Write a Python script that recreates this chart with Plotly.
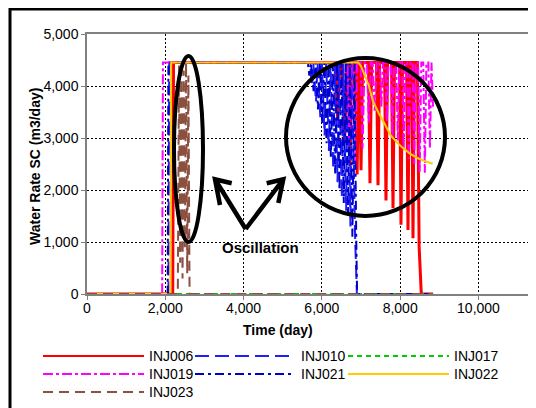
import plotly.graph_objects as go

# ---------------- data (time in days, water rate in m3/day) ----------------
inj006_t = [0, 2190, 2210, 6300, 6340, 6400, 6460, 6520, 6580, 6640, 6680, 6720, 6760,
            6860, 6900, 6940, 6960, 7000, 7040, 7190, 7229, 7270, 7395, 7434, 7475,
            7600, 7638, 7678, 7780, 7817, 7855, 7985, 8021, 8060, 8165, 8200, 8235,
            8295, 8328, 8362, 8440, 8485, 8540, 8840]
inj006_v = [0, 0, 4450, 4450, 4450, 3380, 4450, 4450, 2900, 4450, 4450, 2450, 4450,
            4450, 2300, 4450, 4450, 2380, 4450, 4450, 2130, 4450, 4450, 2090, 4450,
            4450, 1800, 4450, 4450, 1650, 4450, 4450, 1330, 4450, 4450, 1230, 4450,
            4450, 1070, 4450, 4450, 900, 0, 0]

inj010_t = [0, 2080, 2100, 5700, 5740, 5780, 5850, 5890, 5960, 6000, 6070, 6110,
            6180, 6220, 6290, 6330, 6400, 6440, 6510, 6550, 6620, 6660, 6730, 6770,
            6850, 6895, 8840]
inj010_v = [0, 0, 4450, 4450, 4000, 4450, 3700, 4450, 3400, 4450, 3050, 4450,
            2750, 4450, 2400, 4450, 2150, 4450, 1850, 4450, 1600, 4450, 1300, 4450,
            1050, 0, 0]

inj017_t = [0, 8840]
inj017_v = [0, 0]

inj019_t = [0, 1920, 1940, 6650, 6700, 6750, 6800, 6850, 6900, 6990, 7040, 7090,
            7150, 7200, 7250, 7300, 7350, 7400, 7480, 7520, 7560, 7620, 7660, 7700,
            7760, 7800, 7840, 7900, 7940, 7980, 8050, 8090, 8130, 8180, 8220, 8260,
            8320, 8360, 8400, 8460, 8500, 8540, 8590, 8630, 8670, 8720, 8760, 8800, 8840]
inj019_v = [0, 0, 4450, 4450, 3000, 4450, 4450, 2500, 4450, 4450, 2800, 4450,
            4450, 3300, 4450, 4450, 3500, 4450, 4450, 3600, 4450, 4450, 3300, 4450,
            4450, 3000, 4450, 4450, 2950, 4450, 4450, 2750, 4450, 4450, 2600, 4450,
            4450, 2500, 4450, 4450, 2350, 4450, 4450, 2330, 4450, 4450, 2800, 4450, 3600]

inj021_t = [0, 2060, 2080, 5640, 5680, 5720, 5790, 5840, 5900, 5950, 6010, 6060,
            6120, 6170, 6230, 6280, 6340, 6390, 6450, 6500, 6560, 6610, 6670, 6720,
            6780, 6830, 6880, 6900, 8840]
inj021_v = [0, 0, 4450, 4450, 4200, 4450, 3900, 4450, 3550, 4450, 3250, 4450,
            2900, 4450, 2600, 4450, 2300, 4450, 2000, 4450, 1750, 4450, 1500, 4450,
            1100, 4450, 950, 0, 0]

inj022_t = [0, 2130, 2150, 6930, 7000, 7100, 7200, 7300, 7450, 7600, 7750, 7900,
            8050, 8250, 8450, 8650, 8830]
inj022_v = [0, 0, 4450, 4450, 4380, 4200, 4010, 3720, 3480, 3280, 3060, 2930,
            2820, 2700, 2610, 2550, 2505]

inj023_t = [0, 2320, 2350, 2380, 2410, 2440, 2470, 2500, 2530, 2560, 2590, 2620, 8840]
inj023_v = [0, 0, 4400, 600, 4450, 300, 4300, 900, 4450, 400, 4200, 0, 0]

x_ticks = [0, 2000, 4000, 6000, 8000, 10000]
y_ticks = [0, 1000, 2000, 3000, 4000, 5000]

names = ["INJ006", "INJ010", "INJ017", "INJ019", "INJ021", "INJ022", "INJ023"]
colors = ["#FF0000", "#1E1EFF", "#00CC00", "#FF00FF", "#0000C8", "#FFCC00", "#8C5040"]
dashes = ["solid", "14px,6px", "5px,4px", "10px,3px,3px,3px", "9px,4px,3px,4px",
          "solid", "10px,6px"]
widths = [3, 2, 2, 2, 2, 2, 2]
series_t = [inj006_t, inj010_t, inj017_t, inj019_t, inj021_t, inj022_t, inj023_t]
series_v = [inj006_v, inj010_v, inj017_v, inj019_v, inj021_v, inj022_v, inj023_v]

FONT = "Arial, 'Liberation Sans', sans-serif"

fig = go.Figure()
for n, c, d, w, t, v in zip(names, colors, dashes, widths, series_t, series_v):
    fig.add_trace(go.Scatter(x=t, y=v, mode="lines", name=n,
                             line=dict(color=c, dash=d, width=w), showlegend=False))

# page has an 8px body margin; coordinates below are in window pixels
OFF = 8
W, H = 536 - OFF, 408 - OFF
L, R, T, B = 87, 536, 34, 294  # plot area in window pixels


def PX(x):
    return (x - L) / (R - L)


def PY(y):
    return (B - y) / (B - T)


shapes = []
annotations = []

# outer frame
shapes.append(dict(type="rect", xref="paper", yref="paper", x0=PX(10), x1=PX(700),
                   y0=PY(600), y1=PY(9), line=dict(color="black", width=3)))

# ellipses
shapes.append(dict(type="circle", xref="paper", yref="paper", x0=PX(174), x1=PX(203),
                   y0=PY(242), y1=PY(56), line=dict(color="black", width=4)))
shapes.append(dict(type="circle", xref="paper", yref="paper", x0=PX(286), x1=PX(445),
                   y0=PY(216), y1=PY(58), line=dict(color="black", width=4)))


def seg_path(points_list):
    s = ""
    for pts in points_list:
        s += "M " + " L ".join(f"{PX(x):.5f},{PY(y):.5f}" for x, y in pts) + " "
    return s.strip()


arrow_path = seg_path([
    [(245.7, 229), (215, 179.3)],
    [(231.7, 183.3), (215, 179.3), (220, 205)],
    [(245.7, 229), (283.3, 179.3)],
    [(266.7, 183.3), (283.3, 179.3), (278.3, 203)],
])
shapes.append(dict(type="path", xref="paper", yref="paper", path=arrow_path,
                   line=dict(color="black", width=4.5)))


def note(text, x, y, size=14, angle=0, xanchor="center"):
    annotations.append(dict(text=text, xref="paper", yref="paper", x=PX(x), y=PY(y),
                            xanchor=xanchor, yanchor="middle", textangle=angle,
                            showarrow=False,
                            font=dict(family=FONT, size=size, color="black")))


note("<b>Oscillation</b>", 260, 247, size=15)
note("<b>Water Rate SC (m3/day)</b>", 35, 167, size=14, angle=-90)
note("<b>Time (day)</b>", 277.5, 330, size=14)

# legend (drawn)
leg_cols = [(43, 144, 147), (195, 295, 299), (348, 449, 452)]
leg_rows = [356, 374, 392]
for i, (n, c, d) in enumerate(zip(names, colors, dashes)):
    r, col = divmod(i, 3)
    x0, x1, xt = leg_cols[col]
    y = leg_rows[r]
    shapes.append(dict(type="line", xref="paper", yref="paper", x0=PX(x0), x1=PX(x1),
                       y0=PY(y), y1=PY(y), line=dict(color=c, width=2, dash=d)))
    note(n, xt, y, size=14, xanchor="left")

axis_common = dict(showgrid=True, gridcolor="black", griddash="2px,2px", gridwidth=1,
                   showline=True, linecolor="#808080", linewidth=1.5,
                   ticks="outside", ticklen=4, tickcolor="#808080", tickwidth=1,
                   zeroline=False, tickformat=",d",
                   tickfont=dict(family=FONT, size=14, color="black"))

fig.update_layout(
    width=W, height=H, autosize=False,
    margin=dict(l=L - OFF, r=W - (R - OFF), t=T - OFF, b=H - (B - OFF), pad=0),
    paper_bgcolor="white", plot_bgcolor="white",
    xaxis=dict(range=[0, 11470], tickvals=x_ticks, mirror=True, ticklabelstandoff=-4,
               **axis_common),
    yaxis=dict(range=[0, 5000], tickvals=y_ticks, **axis_common),
    shapes=shapes, annotations=annotations, showlegend=False,
)

fig.write_html("out.html")
